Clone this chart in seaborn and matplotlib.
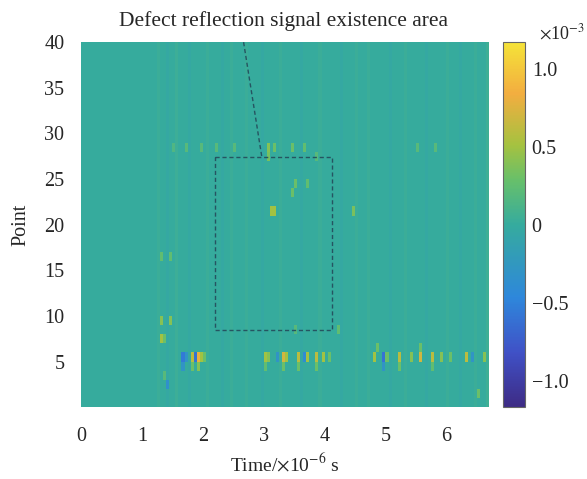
import numpy as np
import pandas as pd
import matplotlib
matplotlib.use("Agg")
import matplotlib.pyplot as plt
import seaborn as sns
from matplotlib.colors import LinearSegmentedColormap

# grid
n_points = 40
dt = 0.05              # us per column
t_max = 6.7            # us

# visible reflection spikes: point index, time (us), amplitude (x1e-3)
spike_points = [6, 6, 6, 6, 6, 6, 6, 5, 5,
                6, 6, 6, 6, 6, 6, 6, 6, 6, 6, 6,
                6, 6, 6, 6, 6, 6, 6, 6, 6, 6, 6, 6, 7, 7, 5,
                8, 8, 10, 10, 17, 17, 3, 4,
                22, 22, 22, 25, 24, 25,
                29, 29, 29, 29, 29, 29, 28, 29, 29, 29, 29, 29, 28,
                9, 9, 2,
                5, 5, 5, 5, 5, 5, 5]
spike_times = [1.65, 1.70, 1.78, 1.85, 1.90, 1.95, 2.00, 1.65, 1.90,
               3.00, 3.05, 3.20, 3.30, 3.35, 3.55, 3.65, 3.70, 3.85, 3.95, 4.05,
               4.80, 4.95, 5.00, 5.20, 5.40, 5.55, 5.75, 5.90, 6.05, 6.30, 6.40, 6.60, 4.85, 5.55, 3.30,
               1.30, 1.35, 1.30, 1.45, 1.30, 1.45, 1.40, 1.35,
               3.10, 3.15, 4.45, 3.50, 3.45, 3.70,
               1.50, 1.70, 1.95, 2.20, 2.50, 3.05, 3.05, 3.15, 3.45, 3.65, 5.50, 5.80, 3.85,
               3.50, 4.20, 6.50,
               1.78, 3.00, 3.55, 3.85, 4.95, 5.20, 5.75]
spike_values = [-0.55, -0.30, 0.60, -0.60, 0.80, 0.50, 0.30, -0.30, 0.40,
                0.50, 0.40, -0.30, 0.70, 0.50, 0.60, -0.40, 0.50, 0.60, 0.50, 0.30,
                0.50, -0.60, 0.30, 0.60, 0.40, 0.70, 0.60, 0.40, 0.30, 0.60, -0.30, 0.40, 0.30, 0.30, 0.30,
                0.50, 0.30, 0.40, 0.40, 0.25, 0.25, -0.35, 0.20,
                0.50, 0.50, 0.35, 0.30, 0.30, 0.25,
                0.15, 0.20, 0.20, 0.20, 0.20, 0.40, 0.35, 0.30, 0.30, 0.25, 0.20, 0.20, 0.20,
                0.20, 0.25, 0.30,
                0.30, 0.25, 0.30, 0.30, -0.30, 0.30, 0.25]

# faint vertical striping of the noise floor (x1e-3)
stripe_times = [1.25, 1.40, 1.55, 1.75, 2.05, 2.30, 2.45, 2.70, 2.95, 3.25,
                3.60, 3.90, 4.25, 4.50, 4.70, 5.05, 5.30, 5.65, 6.00, 6.20, 6.45, 6.65]
stripe_values = [0.03, -0.03, 0.04, -0.03, 0.03, -0.03, 0.03, 0.03, -0.03, 0.03,
                 -0.03, 0.03, -0.03, 0.03, 0.03, -0.03, 0.03, -0.03, 0.03, -0.03, 0.03, 0.05]

# colorbar range (x1e-3)
vmin, vmax = -1.17, 1.17

n_cols = int(round(t_max / dt))
grid = np.zeros((n_points, n_cols))
for t, v in zip(stripe_times, stripe_values):
    grid[:, int(round(t / dt))] += v
for p, t, v in zip(spike_points, spike_times, spike_values):
    grid[n_points - p, int(round(t / dt))] = v
df = pd.DataFrame(grid)

# parula-like map
parula = LinearSegmentedColormap.from_list("parula_like", [
    (0.00, (0.24, 0.17, 0.52)),
    (0.15, (0.25, 0.32, 0.78)),
    (0.30, (0.18, 0.53, 0.86)),
    (0.50, (0.21, 0.67, 0.62)),
    (0.62, (0.40, 0.75, 0.42)),
    (0.72, (0.65, 0.76, 0.25)),
    (0.86, (0.95, 0.68, 0.25)),
    (1.00, (0.96, 0.89, 0.22)),
])

sns.set_theme(style="white")
plt.rcParams["font.family"] = ["Liberation Serif", "DejaVu Serif"]
plt.rcParams["mathtext.fontset"] = "stix"

fig = plt.figure(figsize=(5.87, 4.79), dpi=100)
ax = fig.add_axes([0.138, 0.150, 0.695, 0.762])
cax = fig.add_axes([0.857, 0.150, 0.037, 0.762])

sns.heatmap(df, ax=ax, cbar_ax=cax, cmap=parula, vmin=vmin, vmax=vmax,
            xticklabels=False, yticklabels=False)

fs = 14.5
ax.set_xticks([t / dt for t in range(7)])
ax.set_xticklabels([str(t) for t in range(7)], fontsize=fs, rotation=0)
ax.set_yticks([n_points - p for p in range(40, 0, -5)])
ax.set_yticklabels([str(p) for p in range(40, 0, -5)], fontsize=fs, rotation=0)
ax.tick_params(length=0, pad=14)
ax.tick_params(axis="y", pad=12)
ax.set_xlabel(r"Time/$\times$10$^{-6}$ s", fontsize=14, labelpad=5)
ax.set_ylabel("Point", fontsize=fs, labelpad=10)

# dashed box around the defect reflection area
box_t0, box_t1 = 2.2, 4.13
box_p0, box_p1 = 8.5, 27.4
lc = (0.15, 0.33, 0.38)
ax.plot([box_t0 / dt, box_t1 / dt, box_t1 / dt, box_t0 / dt, box_t0 / dt],
        [n_points - box_p1, n_points - box_p1, n_points - box_p0, n_points - box_p0, n_points - box_p1],
        ls=(0, (3, 2)), color=lc, lw=1.0)
ax.plot([2.67 / dt, 2.97 / dt], [0, n_points - box_p1], ls=(0, (3, 2)), color=lc, lw=1.0)
ax.text(3.33 / dt, -1.2, "Defect reflection signal existence area", ha="center", va="bottom",
        fontsize=15.5)

cbar = ax.collections[0].colorbar
cbar.set_ticks([-1.0, -0.5, 0, 0.5, 1.0])
cbar.set_ticklabels(["\u22121.0", "\u22120.5", "0", "0.5", "1.0"])
cbar.ax.tick_params(labelsize=fs, length=3, direction="in", color="#555555", pad=5)
cbar.outline.set_visible(True)
cbar.outline.set_edgecolor("#666666")
cbar.outline.set_linewidth(0.8)
cax.text(1.65, 1.025, r"$\times$10$^{-3}$", transform=cax.transAxes, fontsize=13,
         ha="left", va="center")

fig.savefig("out.png", dpi=100)
